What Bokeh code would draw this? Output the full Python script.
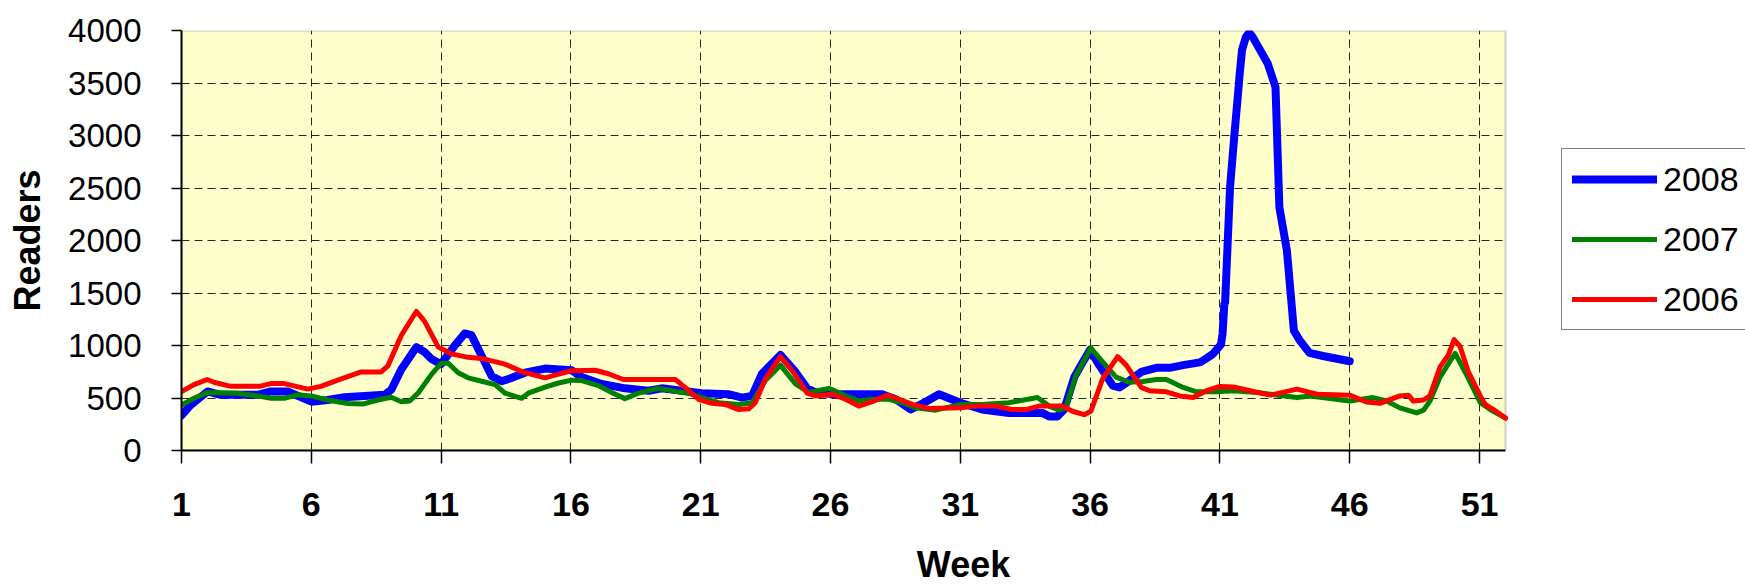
from bokeh.plotting import figure
from bokeh.models import FixedTicker, Legend, LegendItem, Range1d, BoxAnnotation
from bokeh.embed import file_html
from bokeh.resources import INLINE

# ---- data (fractional week positions) ----
weeks_2008 = [1, 1.35, 2.0, 2.5, 3.93, 4.44, 5.09, 6.0, 6.63, 7.28, 8.05, 8.82, 9.08, 9.47,
              10.05, 10.37, 10.63, 11.0, 11.53, 11.91, 12.17, 12.56, 12.95, 13.33, 13.72,
              14.23, 15.0, 16.03, 16.41, 17.18, 18.08, 18.99, 19.5, 20.27, 21.04, 22.07,
              22.59, 22.98, 23.36, 24.07, 24.65, 25.1, 25.42, 26.19, 27.99, 28.51, 29.09,
              29.67, 30.18, 31.0, 31.84, 32.87, 34.16, 34.42, 34.74, 35.0, 35.39, 35.65,
              36.0, 36.35, 36.87, 37.13, 37.52, 37.97, 38.55, 39.06, 39.58, 40.23, 40.48,
              40.72, 40.87, 41.04, 41.1, 41.17, 41.2, 41.39, 41.55, 41.72, 41.75, 41.85,
              42.0, 42.13, 42.26, 42.84, 43.14, 43.29, 43.58, 43.85, 44.07, 44.45, 44.97, 46.0]
readers_2008 = [335, 432, 562, 530, 530, 562, 562, 465, 481, 507, 520, 530, 578, 773,
                985, 936, 871, 822, 1001, 1115, 1098, 903, 708, 660, 692,
                741, 780, 764, 699, 634, 592, 569, 592, 569, 546, 536,
                504, 520, 731, 910, 748, 592, 553, 536, 536, 488, 390,
                465, 536, 455, 390, 358, 358, 325, 325, 390, 699, 813,
                959, 813, 618, 601, 666, 748, 787, 787, 813, 839, 878,
                918, 959, 1010, 1109, 1395, 1410, 2508, 2985, 3462, 3557, 3812,
                3939, 3980, 3939, 3685, 3462, 2317, 1904, 1140, 1050, 930, 900, 850]

weeks_2007 = [1, 1.48, 1.99, 3.15, 3.93, 4.44, 4.96, 5.47, 5.99, 6.63, 7.4, 7.98, 8.56,
              9.08, 9.47, 9.79, 10.11, 10.63, 11.01, 11.27, 11.66, 12.04, 12.56, 13.08,
              13.46, 14.1, 14.36, 15.0, 15.52, 16.04, 16.41, 17.06, 17.57, 18.08, 18.6,
              19.37, 19.89, 20.53, 21.04, 21.69, 22.46, 22.98, 23.49, 24.07, 24.65, 25.16,
              25.94, 26.58, 27.09, 27.61, 28.25, 28.77, 29.28, 30.05, 31.0, 31.84, 32.87,
              33.97, 34.42, 34.81, 35.06, 35.45, 36.03, 36.48, 37.0, 37.52, 38.03, 38.55,
              38.94, 39.58, 40.1, 40.87, 41.52, 42.42, 42.94, 43.97, 44.48, 46.0, 46.9,
              47.42, 47.93, 48.58, 48.84, 49.09, 49.48, 50.06, 50.51, 51.03, 51.41, 52.0]
readers_2007 = [432, 497, 552, 546, 520, 497, 497, 530, 520, 481, 448, 442, 481,
                507, 465, 471, 546, 725, 832, 832, 741, 692, 660, 627,
                546, 497, 546, 604, 643, 670, 666, 618, 553, 494, 546,
                592, 569, 546, 504, 455, 439, 455, 666, 813, 634, 553,
                592, 520, 471, 488, 488, 455, 406, 384, 439, 439, 455,
                504, 423, 384, 406, 715, 975, 845, 699, 650, 657, 676,
                676, 601, 559, 559, 569, 553, 536, 504, 520, 471, 504,
                471, 406, 358, 384, 471, 699, 926, 715, 455, 390, 309]

weeks_2006 = [1, 1.48, 1.99, 2.25, 2.9, 4.0, 4.44, 4.96, 5.86, 6.37, 7.02, 7.92, 8.69,
              8.95, 9.47, 10.05, 10.37, 10.89, 11.4, 12.04, 12.56, 13.46, 14.23, 15.0,
              16.03, 16.93, 17.44, 18.02, 20.02, 20.4, 20.92, 21.43, 21.95, 22.46, 22.85,
              23.1, 23.49, 24.07, 24.52, 25.1, 25.42, 26.06, 26.58, 27.09, 27.61, 28.19,
              28.64, 29.15, 29.8, 31.0, 31.58, 32.35, 32.99, 33.52, 34.03, 34.94, 35.32,
              35.77, 36.03, 36.48, 37.06, 37.39, 37.97, 38.29, 38.94, 39.45, 39.97, 40.48,
              41.0, 41.52, 42.16, 42.94, 43.97, 44.74, 46.0, 46.64, 47.16, 47.93, 48.26,
              48.45, 48.84, 49.09, 49.48, 49.8, 50.02, 50.25, 50.57, 51.03, 51.22, 51.54, 52.0]
readers_2006 = [562, 627, 676, 650, 611, 611, 637, 637, 585, 611, 670, 748, 748,
                806, 1098, 1326, 1228, 985, 920, 887, 877, 822, 741, 692,
                760, 764, 731, 676, 676, 601, 488, 449, 439, 390, 397,
                455, 683, 894, 764, 546, 520, 536, 488, 423, 465, 527,
                488, 439, 400, 406, 423, 423, 390, 390, 423, 423, 374,
                341, 374, 683, 894, 813, 601, 569, 559, 520, 504, 569,
                610, 605, 569, 527, 585, 536, 527, 462, 449, 520, 527,
                471, 481, 520, 796, 910, 1056, 991, 748, 520, 439, 390, 309]

series_labels = ["2008", "2007", "2006"]
x_ticks = [1, 6, 11, 16, 21, 26, 31, 36, 41, 46, 51]
y_ticks = [0, 500, 1000, 1500, 2000, 2500, 3000, 3500, 4000]
week_first, week_last = 1, 52
readers_max = 4000

FONT = "Liberation Sans"

# layout: plot area spans x 181..1505 px; the frame continues to the window edge
# so that the legend (placed to the right of the plot area) is not clipped.
FIG_W, FIG_H = 1745, 587
LEFT, TOP, BOTTOM = 181, 30, 137
PLOT_W = 1324
frame_w = FIG_W - LEFT
x_end = week_first + (week_last - week_first) * frame_w / PLOT_W

p = figure(width=FIG_W, height=FIG_H, output_backend="svg", toolbar_location=None,
           x_range=Range1d(week_first, x_end), y_range=Range1d(0, readers_max),
           min_border_left=LEFT, min_border_right=0, min_border_top=TOP,
           min_border_bottom=BOTTOM)

p.background_fill_color = "white"
p.border_fill_color = "white"
p.outline_line_color = None

# plot-area background and border
p.add_layout(BoxAnnotation(left=week_first, right=week_last, bottom=0, top=readers_max,
                           fill_color="#FFFFCC", fill_alpha=1.0, line_color=None,
                           level="image"))

# grids
for g in (p.xgrid, p.ygrid):
    g.grid_line_color = "black"
    g.grid_line_alpha = 0.85
    g.grid_line_dash = "8 5"
    g.grid_line_width = 1
p.xgrid.ticker = FixedTicker(ticks=x_ticks)
p.ygrid.ticker = FixedTicker(ticks=y_ticks)
p.ygrid.cross_bounds = (week_first, week_last)

p.add_layout(BoxAnnotation(left=week_first, right=week_last, bottom=0, top=readers_max,
                           fill_color=None, line_color="#808080", line_width=2.5,
                           level="underlay"))

# axes
p.xaxis.ticker = FixedTicker(ticks=x_ticks)
p.yaxis.ticker = FixedTicker(ticks=y_ticks)
p.xaxis.bounds = (week_first, week_last)
p.xaxis.minor_tick_line_color = None
p.yaxis.minor_tick_line_color = None
for ax in (p.xaxis[0], p.yaxis[0]):
    ax.axis_line_color = "black"
    ax.axis_line_width = 2
    ax.major_tick_line_color = "black"
    ax.major_tick_line_width = 1.5
    ax.major_tick_in = 0
    ax.major_label_text_font = FONT
    ax.major_label_text_color = "black"
    ax.axis_label_text_font = FONT
    ax.axis_label_text_font_style = "bold"
    ax.axis_label_text_color = "black"
    ax.axis_label_text_font_size = "36px"

p.xaxis.major_tick_out = 13
p.xaxis.major_label_text_font_size = "34px"
p.xaxis.major_label_text_font_style = "bold"
p.xaxis.major_label_standoff = 29
p.xaxis.axis_label = "Week"
p.xaxis.axis_label_standoff = 25

p.yaxis.major_tick_out = 10
p.yaxis.major_label_text_font_size = "33px"
p.yaxis.major_label_text_font_style = "normal"
p.yaxis.major_label_standoff = 30
p.yaxis.axis_label = "Readers"
p.yaxis.axis_label_standoff = 17

# lines (blue drawn first, red on top)
r08 = p.line(weeks_2008, readers_2008, line_color="#0000FF", line_width=8,
             line_join="round", line_cap="round")
r07 = p.line(weeks_2007, readers_2007, line_color="#008000", line_width=5,
             line_join="round", line_cap="round")
r06 = p.line(weeks_2006, readers_2006, line_color="#FF0000", line_width=5,
             line_join="round", line_cap="round")

legend = Legend(
    items=[LegendItem(label=series_labels[0], renderers=[r08]),
           LegendItem(label=series_labels[1], renderers=[r07]),
           LegendItem(label=series_labels[2], renderers=[r06])],
    location=(1380, 120),
    orientation="vertical",
    glyph_width=85, glyph_height=40, label_height=40,
    spacing=20, padding=10, margin=0,
    label_standoff=6,
    label_text_font=FONT, label_text_font_size="34px", label_text_color="black",
    border_line_color="black", border_line_width=1,
    background_fill_color="white", background_fill_alpha=1.0,
)
p.add_layout(legend)

open("out.html", "w").write(file_html(p, INLINE))
